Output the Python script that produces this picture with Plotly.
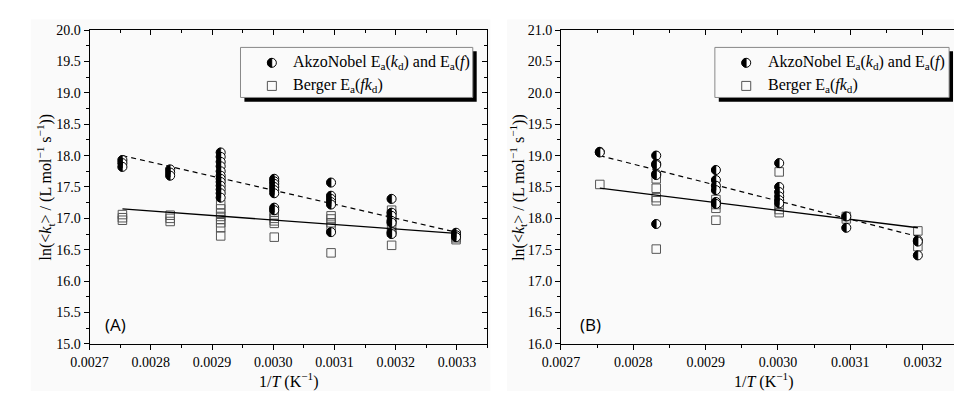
import plotly.graph_objects as go

W, H = 954, 399

# ---------------- data ----------------
inv_T = [0.0027537, 0.0028317, 0.0029142, 0.0030017, 0.0030945, 0.0031934, 0.0032987]

# Panel A
akzoA = [
    [17.93, 17.88, 17.82],
    [17.78, 17.73, 17.68],
    [18.05, 17.98, 17.90, 17.83, 17.75, 17.68, 17.63, 17.58, 17.52, 17.46, 17.40, 17.33],
    [17.63, 17.59, 17.55, 17.50, 17.45, 17.40, 17.17, 17.13],
    [17.57, 17.36, 17.31, 17.26, 17.22, 16.78],
    [17.31, 17.09, 17.04, 16.96, 16.93, 16.78, 16.75],
    [16.77, 16.73, 16.70],
]
bergerA = [
    [17.06, 17.01, 16.97],
    [17.05, 17.00, 16.95],
    [17.22, 17.15, 17.08, 17.03, 16.98, 16.93, 16.85, 16.72],
    [17.10, 17.05, 17.00, 16.96, 16.92, 16.70],
    [17.04, 16.99, 16.93, 16.87, 16.45],
    [17.13, 17.07, 16.95, 16.88, 16.78, 16.57],
    [16.73, 16.69, 16.66],
]
fitA_x = [0.0027537, 0.0032987]
fitA_akzo = [18.00, 16.78]
fitA_berger = [17.15, 16.76]

# Panel B
akzoB = [
    [19.06, 19.05],
    [19.00, 18.87, 18.85, 18.71, 18.69, 17.91],
    [18.77, 18.61, 18.52, 18.45, 18.26, 18.23],
    [18.88, 18.50, 18.42, 18.35, 18.29, 18.24],
    [18.03, 17.85],
    [17.65, 17.63, 17.41],
]
bergerB = [
    [18.54],
    [18.63, 18.48, 18.33, 18.28, 17.51],
    [18.30, 18.22, 18.16, 17.97],
    [18.74, 18.20, 18.14, 18.09],
    [18.03, 17.99],
    [17.80, 17.55],
]
fitB_x = [0.0027537, 0.0031934]
fitB_akzo = [19.00, 17.71]
fitB_berger = [18.48, 17.85]

legend_akzo = "AkzoNobel E<sub>a</sub>(<i>k</i><sub>d</sub>) and E<sub>a</sub>(<i>f</i>)"
legend_berger = "Berger E<sub>a</sub>(<i>fk</i><sub>d</sub>)"
panel_labels = ["(A)", "(B)"]
x_title = "1/<i>T</i> (K<sup>−1</sup>)"
y_title = "ln(&lt;<i>k</i><sub>t</sub>&gt; / (L mol<sup>−1</sup> s<sup>−1</sup>))"

# ---------------- helpers ----------------
def flat(groups, xs):
    X, Y = [], []
    for xv, g in zip(xs, groups):
        for v in g:
            X.append(xv)
            Y.append(v)
    return X, Y

def px(x):
    return x / W

def py(y):
    return 1 - y / H

SERIF = "Liberation Serif"
BG = "#fafafa"
R = 4.5  # marker radius in px
K = 0.5523 * R
HALF_PATH = (f"M0,{R} C{-K},{R} {-R},{K} {-R},0 "
             f"C{-R},{-K} {-K},{-R} 0,{-R} Z")

fig = go.Figure()
shapes = []
annotations = []

def add_panel(groups_a, groups_b, fx, fa, fb, xa, ya):
    bx, by = flat(groups_b, inv_T)
    fig.add_trace(go.Scatter(x=bx, y=by, mode="markers", xaxis=xa, yaxis=ya,
                             marker=dict(symbol="square-open", size=8.5, color="#555555",
                                         line=dict(width=1, color="#555555")),
                             showlegend=False, hoverinfo="skip"))
    fig.add_trace(go.Scatter(x=fx, y=fb, mode="lines", xaxis=xa, yaxis=ya,
                             line=dict(color="black", width=1.3), showlegend=False, hoverinfo="skip"))
    fig.add_trace(go.Scatter(x=fx, y=fa, mode="lines", xaxis=xa, yaxis=ya,
                             line=dict(color="black", width=1.2, dash="5px,4px"),
                             showlegend=False, hoverinfo="skip"))
    ax, ay = flat(groups_a, inv_T)
    fig.add_trace(go.Scatter(x=ax, y=ay, mode="markers", xaxis=xa, yaxis=ya,
                             marker=dict(symbol="circle", size=2 * R, color="white",
                                         line=dict(width=1, color="black")),
                             showlegend=False, hoverinfo="skip"))
    # left black half of each circle, anchored at the data point
    for xv, yv in zip(ax, ay):
        shapes.append(dict(type="path", xref=xa, yref=ya, xsizemode="pixel", ysizemode="pixel",
                           xanchor=xv, yanchor=yv, path=HALF_PATH,
                           fillcolor="black", line=dict(width=0.6, color="black"), layer="above"))

add_panel(akzoA, bergerA, fitA_x, fitA_akzo, fitA_berger, "x", "y")
add_panel(akzoB, bergerB, fitB_x, fitB_akzo, fitB_berger, "x2", "y2")
# empty traces so the mirror tick axes are drawn
fig.add_trace(go.Scatter(x=[], y=[], xaxis="x3", yaxis="y3", mode="markers", showlegend=False))
fig.add_trace(go.Scatter(x=[], y=[], xaxis="x4", yaxis="y4", mode="markers", showlegend=False))

ydom = [py(350), py(24)]
xdomA = [px(72), px(478)]
xdomB = [px(553), 1.0]
rangeA = [0.0027, 0.00335]
rangeB = [0.0027, 0.0027 + (954 - 553) / 738000]

tickfont = dict(family=SERIF, size=14, color="black")
titlefont = dict(family=SERIF, size=16, color="black")

def xbase(domain, rng, anchor):
    return dict(domain=domain, range=rng, anchor=anchor, showline=True, linecolor="black", linewidth=1,
                ticks="outside", ticklen=5, tickwidth=1, tickcolor="black", dtick=0.0001, tick0=0.0027,
                tickformat=".4f", tickfont=tickfont, showgrid=False, zeroline=False,
                minor=dict(ticks="outside", ticklen=3, dtick=0.00005, tick0=0.0027, tickcolor="black", showgrid=False))

def ybase(rng, anchor, d0):
    return dict(domain=ydom, range=rng, anchor=anchor, showline=True, linecolor="black", linewidth=1,
                ticks="outside", ticklen=5, tickwidth=1, tickcolor="black", dtick=0.5, tick0=d0,
                tickformat=".1f", tickfont=tickfont, showgrid=False, zeroline=False,
                minor=dict(ticks="outside", ticklen=3, dtick=0.25, tick0=d0, tickcolor="black", showgrid=False))

def xtop(domain, rng, over, anchor):
    return dict(domain=domain, range=rng, overlaying=over, anchor=anchor, side="top", showline=True,
                linecolor="black", linewidth=1, ticks="inside", ticklen=5, tickcolor="black",
                dtick=0.0001, tick0=0.0027, showticklabels=False, showgrid=False, zeroline=False,
                minor=dict(ticks="inside", ticklen=3, dtick=0.00005, tick0=0.0027, tickcolor="black", showgrid=False))

def yright(rng, over, anchor, d0, show=True):
    return dict(domain=ydom, range=rng, overlaying=over, anchor=anchor, side="right", showline=show,
                linecolor="black", linewidth=1, ticks="inside" if show else "", ticklen=5, tickcolor="black",
                dtick=0.5, tick0=d0, showticklabels=False, showgrid=False, zeroline=False,
                minor=dict(ticks="inside" if show else "", ticklen=3, dtick=0.25, tick0=d0,
                           tickcolor="black", showgrid=False))

fig.update_layout(
    width=W, height=H, margin=dict(l=0, r=0, t=0, b=0),
    paper_bgcolor="white", plot_bgcolor="rgba(0,0,0,0)",
    font=dict(family=SERIF, color="black"),
    xaxis=xbase(xdomA, rangeA, "y"),
    yaxis=ybase([15, 20], "x", 15),
    xaxis2=xbase(xdomB, rangeB, "y2"),
    yaxis2=ybase([16, 21], "x2", 16),
    xaxis3=xtop(xdomA, rangeA, "x", "y3"),
    yaxis3=yright([15, 20], "y", "x3", 15),
    xaxis4=xtop(xdomB, rangeB, "x2", "y4"),
    yaxis4=yright([16, 21], "y2", "x4", 16, show=False),
)

# panel backgrounds
for (l, r) in [(12, 481), (498, 954)]:
    shapes.append(dict(type="rect", xref="paper", yref="paper", x0=px(l), x1=px(r), y0=0, y1=py(13),
                       fillcolor=BG, line=dict(width=0), layer="below"))

# legends
for i, (l, r) in enumerate([(226, 463), (710, 949)]):
    shapes.append(dict(type="rect", xref="paper", yref="paper", x0=px(l + 4), x1=px(r + 4),
                       y0=py(98.5), y1=py(46), fillcolor="black", line=dict(width=0), layer="above"))
    shapes.append(dict(type="rect", xref="paper", yref="paper", x0=px(l), x1=px(r),
                       y0=py(94), y1=py(42), fillcolor=BG, line=dict(width=1, color="#888888"), layer="above"))
    sx = l + 32
    shapes.append(dict(type="circle", xref="paper", yref="paper", xsizemode="pixel", ysizemode="pixel",
                       xanchor=px(sx), yanchor=py(58), x0=-R, x1=R, y0=-R, y1=R,
                       fillcolor="white", line=dict(width=1, color="black"), layer="above"))
    shapes.append(dict(type="path", xref="paper", yref="paper", xsizemode="pixel", ysizemode="pixel",
                       xanchor=px(sx), yanchor=py(58), path=HALF_PATH,
                       fillcolor="black", line=dict(width=0.6, color="black"), layer="above"))
    shapes.append(dict(type="rect", xref="paper", yref="paper", xsizemode="pixel", ysizemode="pixel",
                       xanchor=px(sx), yanchor=py(82), x0=-4.5, x1=4.5, y0=-4.5, y1=4.5,
                       fillcolor="rgba(0,0,0,0)", line=dict(width=1, color="#555555"), layer="above"))
    annotations.append(dict(xref="paper", yref="paper", x=px(l + 52), y=py(58), text=legend_akzo, showarrow=False,
                            font=dict(family=SERIF, size=16, color="black"), xanchor="left", yanchor="middle"))
    annotations.append(dict(xref="paper", yref="paper", x=px(l + 52), y=py(82), text=legend_berger, showarrow=False,
                            font=dict(family=SERIF, size=16, color="black"), xanchor="left", yanchor="middle"))

# axis titles
for xc, yc in [(275, 27), (760, 509)]:
    annotations.append(dict(xref="paper", yref="paper", x=px(xc), y=py(388), text=x_title, showarrow=False,
                            font=titlefont, xanchor="center", yanchor="middle"))
    annotations.append(dict(xref="paper", yref="paper", x=px(yc), y=py(187), text=y_title, showarrow=False,
                            font=titlefont, textangle=-90, xanchor="center", yanchor="middle"))

for lab, xl in zip(panel_labels, [86, 570]):
    annotations.append(dict(xref="paper", yref="paper", x=px(xl), y=py(330), text=lab, showarrow=False,
                            font=dict(family="Open Sans", size=17, color="black"), xanchor="left", yanchor="middle"))

fig.update_layout(shapes=shapes, annotations=annotations)
fig.write_html("out.html")
